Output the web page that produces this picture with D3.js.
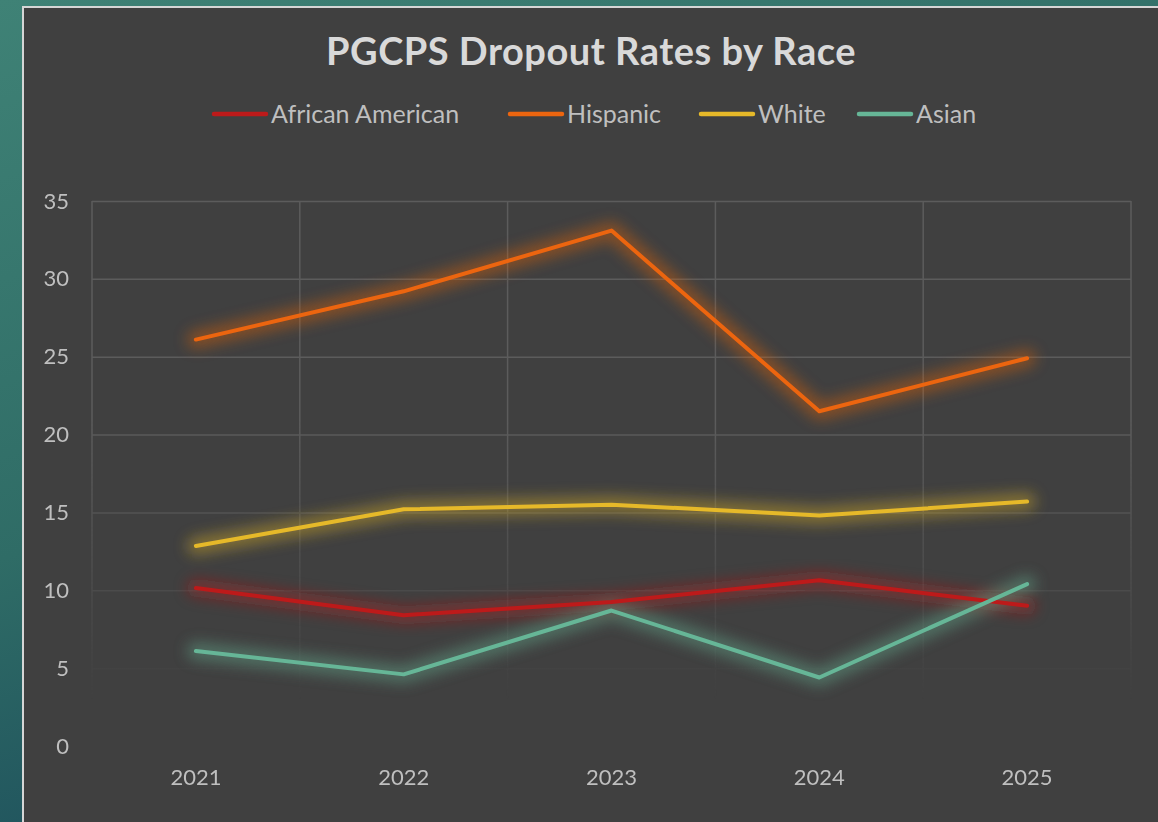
<!DOCTYPE html>
<html>
<head>
<meta charset="utf-8">
<script src="https://cdn.jsdelivr.net/npm/d3@7"></script>
<style>
  html, body { margin: 0; padding: 0; }
  body {
    width: 1158px; height: 822px; overflow: hidden;
    background: linear-gradient(160deg, #3f8276 0%, #2f6c66 45%, #1d4f5c 75%, #0f3a4a 100%);
  }
  #chart { position: absolute; left: 0; top: 0; }
</style>
</head>
<body>
<div id="chart"></div>
<script>
// data
const years = ['2021', '2022', '2023', '2024', '2025'];
const africanAmerican = [10.15, 8.4, 9.25, 10.65, 9.0];
const hispanic = [26.1, 29.2, 33.1, 21.5, 24.9];
const white = [12.85, 15.2, 15.5, 14.8, 15.7];
const asian = [6.1, 4.6, 8.7, 4.4, 10.4];
const yTicks = [0, 5, 10, 15, 20, 25, 30, 35];

const seriesNames = ['African American', 'Hispanic', 'White', 'Asian'];
const seriesColors = ['#bd1a1a', '#ec650f', '#e6b929', '#66b697'];
const seriesValues = [africanAmerican, hispanic, white, asian];

const W = 1158, H = 822;
const font = "Lato, 'Open Sans', sans-serif";

const svg = d3.select('#chart').append('svg')
    .attr('width', W)
    .attr('height', H);

const defs = svg.append('defs');

// soft glow under each line
defs.append('filter')
    .attr('id', 'glow')
    .attr('x', '-20%').attr('y', '-60%')
    .attr('width', '140%').attr('height', '220%')
    .append('feGaussianBlur')
    .attr('stdDeviation', 7);

// gridlines fade out towards the bottom
const grad = defs.append('linearGradient')
    .attr('id', 'gridFade')
    .attr('gradientUnits', 'userSpaceOnUse')
    .attr('x1', 0).attr('x2', 0)
    .attr('y1', 420).attr('y2', 700);
grad.append('stop').attr('offset', 0).attr('stop-color', '#fff').attr('stop-opacity', 1);
grad.append('stop').attr('offset', 1).attr('stop-color', '#fff').attr('stop-opacity', 0);
defs.append('mask')
    .attr('id', 'gridMask')
    .append('rect')
    .attr('x', 0).attr('y', 0).attr('width', W).attr('height', H)
    .attr('fill', 'url(#gridFade)');

// chart panel
svg.append('rect')
    .attr('x', 23).attr('y', 7)
    .attr('width', W - 22).attr('height', H)
    .attr('fill', '#404040')
    .attr('stroke', '#d6d6d6')
    .attr('stroke-width', 2);

// title
svg.append('text')
    .attr('x', 591)
    .attr('y', 65)
    .attr('text-anchor', 'middle')
    .attr('font-family', font)
    .attr('font-weight', 'bold')
    .attr('font-size', '38px')
    .attr('letter-spacing', '0.5px')
    .attr('fill', '#d9d9d9')
    .text('PGCPS Dropout Rates by Race');

// legend
const legendX = [212, 508, 699, 857];
const legend = svg.append('g').attr('font-family', font);
seriesNames.forEach((name, i) => {
    const g = legend.append('g').attr('transform', `translate(${legendX[i]},114)`);
    g.append('line')
        .attr('x1', 2).attr('x2', 54)
        .attr('stroke', seriesColors[i])
        .attr('stroke-width', 4.5)
        .attr('stroke-linecap', 'round');
    g.append('text')
        .attr('x', 59)
        .attr('y', 8.5)
        .attr('font-size', '25px')
        .attr('fill', '#bfbfbf')
        .text(name);
});

const margin = { top: 201, left: 92, right: 1131, bottom: 746 };

const x = d3.scaleBand()
    .domain(years)
    .range([margin.left, margin.right]);

const y = d3.scaleLinear()
    .domain([0, 35])
    .range([margin.bottom, margin.top]);

// grid
const grid = svg.append('g').attr('mask', 'url(#gridMask)');
grid.append('g')
    .attr('transform', `translate(${margin.left},0)`)
    .call(d3.axisLeft(y).tickValues(yTicks.filter(d => d > 0)).tickSize(-(margin.right - margin.left)).tickFormat(''))
    .call(g => g.select('.domain').remove())
    .selectAll('line')
    .attr('stroke', '#5c5c5c')
    .attr('stroke-width', 1.5);

const bounds = years.map(d => x(d)).concat([margin.right]);
grid.selectAll('.vgrid')
    .data(bounds)
    .enter()
    .append('line')
    .attr('class', 'vgrid')
    .attr('x1', d => d).attr('x2', d => d)
    .attr('y1', y(35)).attr('y2', y(0))
    .attr('stroke', '#5c5c5c')
    .attr('stroke-width', 1.5);

// y axis labels
const yAxis = svg.append('g')
    .attr('transform', `translate(69,0)`)
    .call(d3.axisLeft(y).tickValues(yTicks).tickSize(0).tickPadding(0));
yAxis.select('.domain').remove();
yAxis.selectAll('text')
    .attr('font-family', font)
    .attr('font-size', '22px')
    .attr('fill', '#bfbfbf');

// x axis labels
const xAxis = svg.append('g')
    .attr('transform', `translate(0,${margin.bottom + 23})`)
    .call(d3.axisBottom(x).tickSize(0).tickPadding(0));
xAxis.select('.domain').remove();
xAxis.selectAll('text')
    .attr('font-family', font)
    .attr('font-size', '22px')
    .attr('fill', '#bfbfbf');

// lines
const line = d3.line()
    .x((d, i) => x(years[i]) + x.bandwidth() / 2)
    .y(d => y(d));

seriesValues.forEach((vals, i) => {
    svg.append('path')
        .datum(vals)
        .attr('d', line)
        .attr('fill', 'none')
        .attr('stroke', seriesColors[i])
        .attr('stroke-width', 18)
        .attr('stroke-opacity', 0.4)
        .attr('stroke-linejoin', 'round')
        .attr('stroke-linecap', 'round')
        .attr('filter', 'url(#glow)');
});
seriesValues.forEach((vals, i) => {
    svg.append('path')
        .datum(vals)
        .attr('d', line)
        .attr('fill', 'none')
        .attr('stroke', seriesColors[i])
        .attr('stroke-width', 4)
        .attr('stroke-linejoin', 'round')
        .attr('stroke-linecap', 'round');
});
</script>
</body>
</html>
